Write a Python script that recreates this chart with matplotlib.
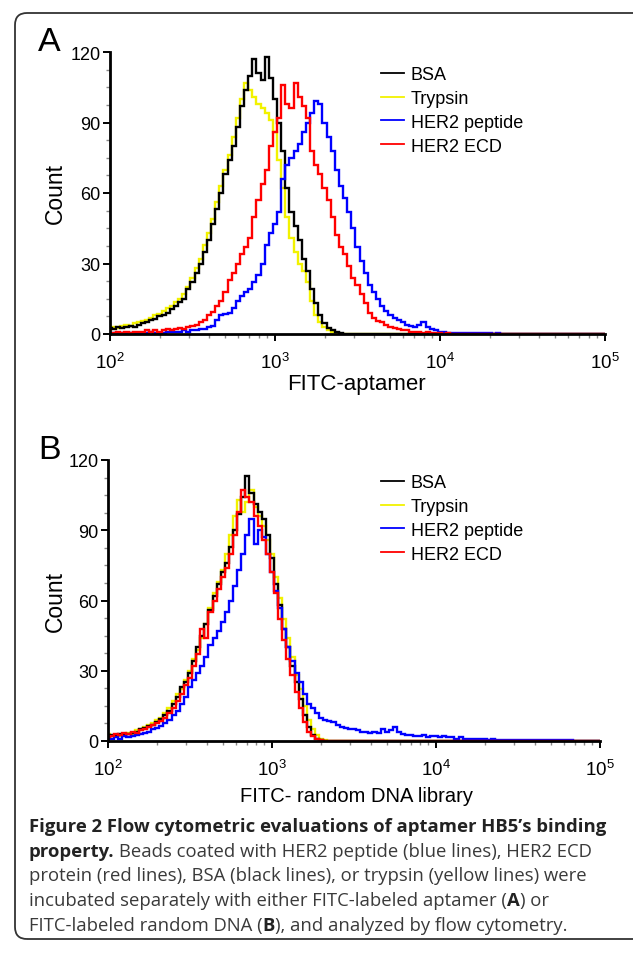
import numpy as np
import matplotlib
matplotlib.use("Agg")
import matplotlib.pyplot as plt
from matplotlib.patches import FancyBboxPatch
from matplotlib.transforms import IdentityTransform
from matplotlib.ticker import LogLocator, MultipleLocator, NullFormatter

plt.rcParams['font.family'] = ['Liberation Sans', 'DejaVu Sans']
plt.rcParams['mathtext.fontset'] = 'custom'
plt.rcParams['mathtext.rm'] = 'Liberation Sans'
plt.rcParams['mathtext.it'] = 'Liberation Sans:italic'
plt.rcParams['mathtext.bf'] = 'Liberation Sans:bold'

# flow cytometry channels, log10(FITC) from 2.0 to 5.0, 40 channels per decade
log_fitc = np.round(2.0 + 0.025 * np.arange(121), 3)
fitc = 10 ** log_fitc

# ---- panel A: FITC-aptamer ----
bsa_a = [
    2.5, 2, 3, 2.5, 3, 3.5, 3, 4, 4.5, 5,
    6, 6.5, 7.5, 8, 9, 10.5, 12, 13.5, 15, 19,
    22, 26, 30, 35, 40, 47, 53, 60, 68, 74,
    80, 88, 97, 104, 110, 117, 111, 108, 118, 109,
    100, 90, 78, 62, 52, 46, 40, 32, 27, 19,
    13, 8, 4.5, 2.5, 1.5, 0.7, 0.3, 0, 0, 0,
    0, 0, 0, 0, 0, 0, 0, 0, 0, 0,
    0, 0, 0, 0, 0, 0, 0, 0, 0, 0,
    0, 0, 0, 0, 0, 0, 0, 0, 0, 0,
    0, 0, 0, 0, 0, 0, 0, 0, 0, 0,
    0, 0, 0, 0, 0, 0, 0, 0, 0, 0,
    0, 0, 0, 0, 0, 0, 0, 0, 0, 0,
    0,
]
trypsin_a = [
    2, 3, 2.5, 3.5, 4, 3.5, 4.5, 5, 5.5, 6,
    7, 8, 8.5, 10, 11, 12, 13.5, 15, 17, 20,
    24, 28, 32, 38, 43, 49, 56, 63, 70, 76,
    84, 92, 100, 107, 104, 101, 98, 96, 94, 91,
    86, 74, 62, 50, 41, 35, 30, 27, 22, 14,
    8, 5, 3, 1.5, 0.7, 0.3, 0, 0, 0, 0,
    0, 0, 0, 0, 0, 0, 0, 0, 0, 0,
    0, 0, 0, 0, 0, 0, 0, 0, 0, 0,
    0, 0, 0, 0, 0, 0, 0, 0, 0, 0,
    0, 0, 0, 0, 0, 0, 0, 0, 0, 0,
    0, 0, 0, 0, 0, 0, 0, 0, 0, 0,
    0, 0, 0, 0, 0, 0, 0, 0, 0, 0,
    0,
]
peptide_a = [
    0.3, 0.3, 0.5, 0.3, 0.5, 0.5, 0.5, 0.5, 0.5, 0.5,
    1, 0.5, 0.5, 0.5, 1, 1, 1, 1, 1.5, 1,
    1.5, 1.5, 2, 2, 3, 3.5, 6, 8, 8.5, 9,
    11, 14, 16, 18, 19, 22, 25, 30, 38, 43,
    47, 52, 66, 72, 75, 78, 81, 86, 90, 94,
    99, 98, 90, 84, 78, 70, 63, 58, 52, 45,
    37, 31, 26, 21, 18, 15, 12, 10, 8, 7,
    6, 5, 4, 3.5, 3, 4, 5, 3, 2, 1.5,
    1, 1, 0.5, 0.5, 0.5, 0.3, 0.3, 0.3, 0.5, 0.3,
    0.3, 0.3, 0.5, 0, 0.3, 0, 0, 0, 0, 0,
    0, 0, 0, 0, 0, 0, 0, 0, 0, 0,
    0, 0, 0, 0, 0, 0, 0, 0, 0, 0,
    0,
]
ecd_a = [
    0.5, 0.5, 1, 0.5, 1, 0.5, 1, 1, 1, 1.5,
    1, 1.5, 1, 1.5, 2, 1.5, 2, 2.5, 2, 3,
    3.5, 4, 5, 6, 8, 9.5, 12, 14, 18, 23,
    26, 30, 34, 37, 41, 50, 57, 64, 70, 80,
    86, 92, 106, 98, 96, 107, 101, 97, 92, 78,
    72, 68, 62, 57, 50, 42, 37, 34, 29, 24,
    21, 17, 13, 9, 7, 5.5, 5, 4, 3, 2.5,
    2, 1.5, 1.5, 1, 1, 1, 0.5, 1, 0.5, 0.5,
    0.3, 0, 0.3, 0, 0, 0, 0, 0, 0, 0,
    0, 0, 0, 0, 0, 0, 0, 0, 0, 0,
    0, 0, 0, 0, 0, 0, 0, 0, 0, 0,
    0, 0, 0, 0, 0, 0, 0, 0, 0, 0,
    0,
]

# ---- panel B: FITC- random DNA library ----
bsa_b = [
    2, 2.5, 2, 3, 2.5, 3, 3.5, 4, 5, 5.5,
    6.5, 7, 8, 9.5, 11, 13, 16, 19, 23, 25,
    29, 34, 40, 45, 50, 56, 62, 67, 72, 76,
    83, 90, 97, 104, 113, 106, 101, 98, 95, 88,
    78, 67, 58, 48, 40, 32, 25, 18, 11, 6,
    2.5, 1, 0.5, 0, 0, 0, 0, 0, 0, 0,
    0, 0, 0, 0, 0, 0, 0, 0, 0, 0,
    0, 0, 0, 0, 0, 0, 0, 0, 0, 0,
    0, 0, 0, 0, 0, 0, 0, 0, 0, 0,
    0, 0, 0, 0, 0, 0, 0, 0, 0, 0,
    0, 0, 0, 0, 0, 0, 0, 0, 0, 0,
    0, 0, 0, 0, 0, 0, 0, 0, 0, 0,
    0,
]
trypsin_b = [
    3, 2, 2.5, 2, 3, 3.5, 3, 4.5, 5, 6,
    7, 7.5, 9, 10, 12, 14, 17, 20, 22, 26,
    30, 35, 39, 44, 50, 57, 63, 68, 73, 80,
    88, 96, 103, 98, 102, 107, 100, 96, 92, 86,
    80, 70, 61, 52, 44, 36, 28, 22, 15, 9,
    5, 2.5, 1, 0.5, 0, 0, 0, 0, 0, 0,
    0, 0, 0, 0, 0, 0, 0, 0, 0, 0,
    0, 0, 0, 0, 0, 0, 0, 0, 0, 0,
    0, 0, 0, 0, 0, 0, 0, 0, 0, 0,
    0, 0, 0, 0, 0, 0, 0, 0, 0, 0,
    0, 0, 0, 0, 0, 0, 0, 0, 0, 0,
    0, 0, 0, 0, 0, 0, 0, 0, 0, 0,
    0,
]
peptide_b = [
    1.5, 1, 1.5, 1, 2, 1.5, 2, 2.5, 3, 3.5,
    4, 5, 5.5, 6.5, 7.5, 9, 11, 13, 16, 19,
    23, 26, 29, 32, 36, 41, 44, 47, 51, 55,
    60, 66, 73, 80, 88, 95, 84, 90, 87, 80,
    72, 64, 57, 48, 40, 34, 29, 25, 20, 16,
    14, 12, 10, 9, 8.5, 8, 7, 6, 5.5, 5,
    5, 4.5, 4, 4, 3.5, 4, 3.5, 5, 4, 4.5,
    6, 4, 3, 2.5, 2.5, 2, 2, 2.5, 1.5, 2,
    2, 1.5, 2, 1.5, 1.5, 1, 1.5, 1, 1, 1,
    0.7, 1, 0.7, 0.5, 0.7, 0.5, 0.5, 0.5, 0.5, 0.3,
    0.5, 0.3, 0.5, 0.3, 0.3, 0.3, 0.3, 0.3, 0.3, 0.3,
    0.3, 0.5, 0.3, 0.5, 0, 0, 0, 0, 0, 0,
    0,
]
ecd_b = [
    1.5, 2, 3, 2.5, 3.5, 3, 4, 3.5, 4.5, 5,
    6, 7, 7.5, 8.5, 10, 12, 14, 17, 20, 24,
    27, 32, 37, 48, 44, 55, 60, 65, 70, 74,
    80, 88, 98, 107, 104, 102, 96, 92, 86, 80,
    72, 63, 52, 43, 35, 28, 21, 14, 8, 4,
    2, 1, 0.5, 0, 0, 0, 0, 0, 0, 0,
    0, 0, 0, 0, 0, 0, 0, 0, 0, 0,
    0, 0, 0, 0, 0, 0, 0, 0, 0, 0,
    0, 0, 0, 0, 0, 0, 0, 0, 0, 0,
    0, 0, 0, 0, 0, 0, 0, 0, 0, 0,
    0, 0, 0, 0, 0, 0, 0, 0, 0, 0,
    0, 0, 0, 0, 0, 0, 0, 0, 0, 0,
    0,
]

labels = ["BSA", "Trypsin", "HER2 peptide", "HER2 ECD"]
colors = ["#000000", "#f2f200", "#0000ff", "#ff0000"]
yticks = [0, 30, 60, 90, 120]

W, H = 633, 954
fig = plt.figure(figsize=(W / 100, H / 100), dpi=100)


def px_axes(left, top, right, bottom):
    return fig.add_axes([left / W, 1 - bottom / H, (right - left) / W, (bottom - top) / H])


def draw_panel(ax, series, letter, xlabel, top, bottom, xlab_off, xlab_size):
    lines = {}
    # yellow first so black sits on it, red on top
    for idx in [1, 0, 2, 3]:
        ln, = ax.plot(fitc, series[idx], drawstyle='steps-mid', color=colors[idx], lw=1.7,
                      label=labels[idx], solid_joinstyle='miter')
        lines[idx] = ln
    ax.set_xscale('log')
    ax.set_xlim(100, 1e5)
    ax.set_ylim(0, 120)
    ax.set_yticks(yticks)
    ax.yaxis.set_minor_locator(MultipleLocator(7.5))
    ax.xaxis.set_major_locator(LogLocator(base=10, numticks=10))
    ax.xaxis.set_minor_locator(LogLocator(base=10, subs=np.arange(2, 10), numticks=10))
    ax.xaxis.set_minor_formatter(NullFormatter())
    for s in ['top', 'right']:
        ax.spines[s].set_visible(False)
    for s in ['left', 'bottom']:
        ax.spines[s].set_linewidth(2)
    ax.tick_params(which='major', direction='out', length=5, width=1.4)
    ax.tick_params(which='minor', direction='out', length=3, width=1, color='#888888')
    ax.tick_params(axis='y', which='major', labelsize=13, pad=2)
    ax.tick_params(axis='x', which='major', labelsize=13.5, pad=8)
    ax.patch.set_alpha(0)

    handles = [lines[i] for i in range(4)]
    leg = ax.legend(handles, labels, loc='upper left', bbox_to_anchor=(381 / W, 1 - (top + 14) / H),
                    bbox_transform=fig.transFigure, frameon=False, fontsize=13,
                    handlelength=1.3, handletextpad=0.35, labelspacing=0.38,
                    borderpad=0, borderaxespad=0)
    for lh in leg.get_lines():
        lh.set_linewidth(1.3)

    fig.text(38 / W, 1 - (top - 2) / H, letter, fontsize=24.5, va='baseline', ha='left')
    fig.text(55 / W, 1 - (top + bottom) / 2 / H, "Count", fontsize=16.5, rotation=90,
             va='center', ha='center')
    fig.text(356 / W, 1 - (bottom + xlab_off) / H, xlabel, fontsize=xlab_size,
             va='baseline', ha='center')


ax_a = px_axes(110, 53, 605, 335)
draw_panel(ax_a, [bsa_a, trypsin_a, peptide_a, ecd_a], "A", "FITC-aptamer", 53, 335, 55, 16)

ax_b = px_axes(108, 461, 600, 742)
draw_panel(ax_b, [bsa_b, trypsin_b, peptide_b, ecd_b], "B", "FITC- random DNA library",
           461, 742, 60, 14.5)

# rounded frame around the figure
frame = FancyBboxPatch((15, 14), 660, 926, boxstyle="round,pad=0,rounding_size=12",
                       transform=IdentityTransform(), fill=False, edgecolor='#333333',
                       linewidth=1.3)
fig.add_artist(frame)

# caption with mixed bold / regular runs
cap_font = ['Open Sans', 'DejaVu Sans']
cap_size = 13.3
caption = [
    [("Figure 2 Flow cytometric evaluations of aptamer HB5\u2019s binding", 'bold')],
    [("property.", 'bold'), (" Beads coated with HER2 peptide (blue lines), HER2 ECD", 'normal')],
    [("protein (red lines), BSA (black lines), or trypsin (yellow lines) were", 'normal')],
    [("incubated separately with either FITC-labeled aptamer (", 'normal'), ("A", 'bold'), (") or", 'normal')],
    [("FITC-labeled random DNA (", 'normal'), ("B", 'bold'), ("), and analyzed by flow cytometry.", 'normal')],
]
baselines = [832, 856.7, 881.3, 906, 930.7]

renderer = fig.canvas.get_renderer()


def text_width(s, weight):
    t = fig.text(0, 0, s, fontsize=cap_size, family=cap_font, fontweight=weight)
    w = t.get_window_extent(renderer).width
    t.remove()
    return w


for runs, base in zip(caption, baselines):
    x = 29
    for s, weight in runs:
        lead = len(s) - len(s.lstrip(' '))
        if lead:
            x += text_width("a" + " " * lead + "a", weight) - text_width("aa", weight)
        s = s.strip(' ')
        col = '#222222' if weight == 'bold' else '#3a3a3a'
        t = fig.text(x / W, 1 - base / H, s, fontsize=cap_size, family=cap_font,
                     fontweight=weight, color=col, va='baseline', ha='left')
        x += t.get_window_extent(renderer).width

fig.savefig("out.png", dpi=100)
